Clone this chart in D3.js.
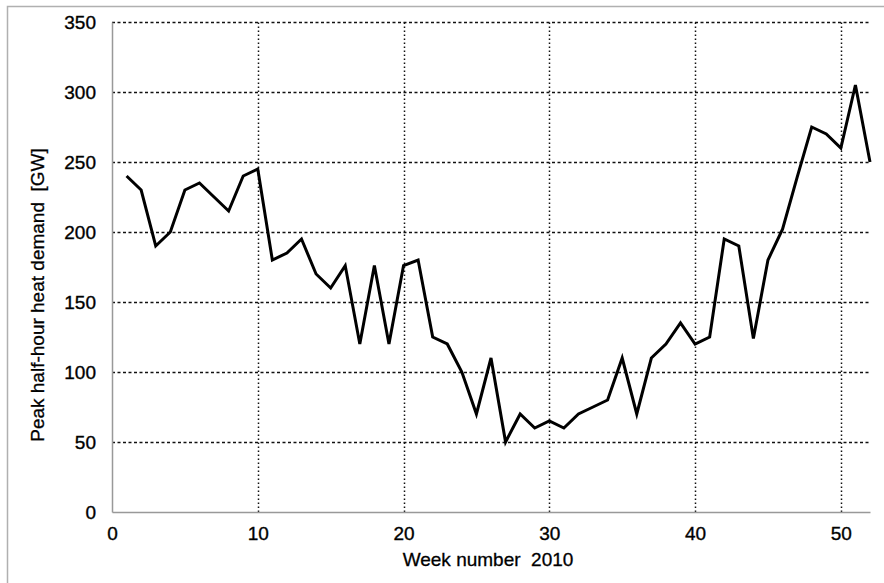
<!DOCTYPE html>
<html>
<head>
<meta charset="utf-8">
<script src="https://cdn.jsdelivr.net/npm/d3@7"></script>
<style>
  html, body { margin: 0; padding: 0; background: #fff; }
  svg { display: block; }
  text { font-family: "Liberation Sans", Arial, sans-serif; fill: #000; white-space: pre; }
</style>
</head>
<body>
<script>
const weeks = d3.range(1, 53);
const demand = [240, 230, 190, 200, 230, 235, 225, 215, 240, 245,
                180, 185, 195, 170, 160, 176, 120, 176, 120, 176,
                180, 125, 120, 100, 70, 110, 50, 70, 60, 65,
                60, 70, 75, 80, 110, 70, 110, 120, 135, 120,
                125, 195, 190, 124, 180, 202, 239, 275, 270, 260,
                305, 250];
const xTicks = [0, 10, 20, 30, 40, 50];
const yTicks = [0, 50, 100, 150, 200, 250, 300, 350];
const xLabel = "Week number  2010";
const yLabel = "Peak half-hour heat demand  [GW]";

const W = 884, H = 583;
const m = { left: 112, top: 22, right: 14, bottom: 71 };
const svg = d3.select("body").append("svg").attr("width", W).attr("height", H);

// outer frame
svg.append("path").attr("d", `M7.5,${H} V6.5 H${W}`)
  .attr("fill", "none").attr("stroke", "#b0b0b0").attr("stroke-width", 1.5);

const x = d3.scaleLinear().domain([0, 52]).range([m.left, W - m.right]);
const y = d3.scaleLinear().domain([0, 350]).range([H - m.bottom, m.top]);

// horizontal dashed grid
svg.append("g").selectAll("line").data(yTicks.filter(d => d > 0)).join("line")
  .attr("x1", x(0)).attr("x2", x(52))
  .attr("y1", d => Math.round(y(d)) + 0.5).attr("y2", d => Math.round(y(d)) + 0.5)
  .attr("stroke", "#111").attr("stroke-width", 1.3).attr("stroke-dasharray", "3,2.5");

// vertical dotted grid
svg.append("g").selectAll("line").data(xTicks.filter(d => d > 0)).join("line")
  .attr("x1", d => Math.round(x(d)) + 0.5).attr("x2", d => Math.round(x(d)) + 0.5)
  .attr("y1", y(0)).attr("y2", y(350))
  .attr("stroke", "#111").attr("stroke-width", 1.5).attr("stroke-dasharray", "1.5,2.5");

const tickFont = (sel) => sel.style("font-size", "19px")
  .style("font-family", "'Liberation Sans', Arial, sans-serif")
  .attr("stroke", "#000").attr("stroke-width", 0.35);

// axes
const xAxis = svg.append("g").attr("transform", `translate(0,${y(0)})`)
  .call(d3.axisBottom(x).tickValues(xTicks).tickSize(0).tickPadding(15).tickFormat(d3.format("d")));
xAxis.select(".domain").attr("stroke", "#999").attr("stroke-width", 1.5);
xAxis.selectAll("text").call(tickFont);

const yAxis = svg.append("g").attr("transform", `translate(${x(0)},0)`)
  .call(d3.axisLeft(y).tickValues(yTicks).tickSize(0).tickPadding(16).tickFormat(d3.format("d")));
yAxis.select(".domain").attr("stroke", "#999").attr("stroke-width", 1.5);
yAxis.selectAll("text").call(tickFont);

// line
const line = d3.line().x((d, i) => x(weeks[i])).y(d => y(d));
svg.append("path").datum(demand).attr("d", line)
  .attr("fill", "none").attr("stroke", "#000").attr("stroke-width", 3)
  .attr("stroke-linejoin", "miter");

// axis labels
svg.append("text").attr("x", 488).attr("y", 566).attr("text-anchor", "middle")
  .style("font-size", "19px").attr("stroke", "#000").attr("stroke-width", 0.3).text(xLabel);
svg.append("text").attr("transform", `translate(44,295) rotate(-90)`).attr("text-anchor", "middle")
  .style("font-size", "19px").attr("stroke", "#000").attr("stroke-width", 0.3).text(yLabel);
</script>
</body>
</html>
